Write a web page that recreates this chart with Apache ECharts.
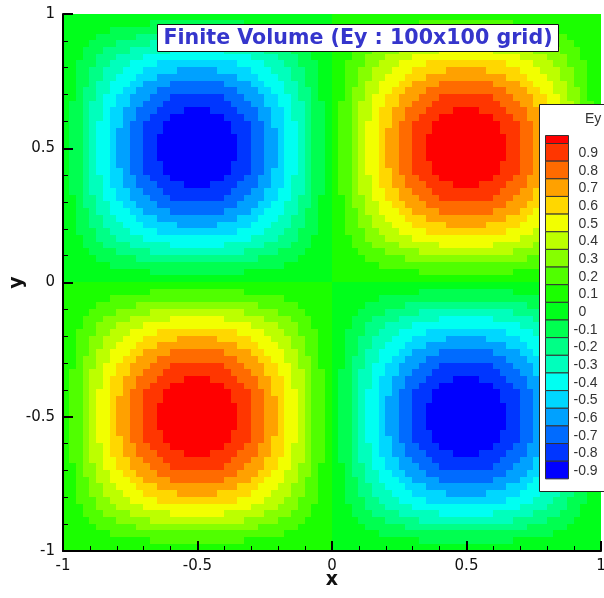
<!DOCTYPE html>
<html><head><meta charset="utf-8">
<script src="https://cdn.jsdelivr.net/npm/echarts@6/dist/echarts.min.js"></script>
<style>html,body{margin:0;padding:0;background:#fff}#c{width:604px;height:598px}</style>
</head><body><div id="c"></div>
<script>
// cell centres (0.025 wide finite-volume cells)
const xCells = [-0.9875,-0.9625,-0.9375,-0.9125,-0.8875,-0.8625,-0.8375,-0.8125,-0.7875,-0.7625,-0.7375,-0.7125,-0.6875,-0.6625,-0.6375,-0.6125,-0.5875,-0.5625,-0.5375,-0.5125,-0.4875,-0.4625,-0.4375,-0.4125,-0.3875,-0.3625,-0.3375,-0.3125,-0.2875,-0.2625,-0.2375,-0.2125,-0.1875,-0.1625,-0.1375,-0.1125,-0.0875,-0.0625,-0.0375,-0.0125,0.0125,0.0375,0.0625,0.0875,0.1125,0.1375,0.1625,0.1875,0.2125,0.2375,0.2625,0.2875,0.3125,0.3375,0.3625,0.3875,0.4125,0.4375,0.4625,0.4875,0.5125,0.5375,0.5625,0.5875,0.6125,0.6375,0.6625,0.6875,0.7125,0.7375,0.7625,0.7875,0.8125,0.8375,0.8625,0.8875,0.9125,0.9375,0.9625,0.9875];
const yCells = [0.9875,0.9625,0.9375,0.9125,0.8875,0.8625,0.8375,0.8125,0.7875,0.7625,0.7375,0.7125,0.6875,0.6625,0.6375,0.6125,0.5875,0.5625,0.5375,0.5125,0.4875,0.4625,0.4375,0.4125,0.3875,0.3625,0.3375,0.3125,0.2875,0.2625,0.2375,0.2125,0.1875,0.1625,0.1375,0.1125,0.0875,0.0625,0.0375,0.0125,-0.0125,-0.0375,-0.0625,-0.0875,-0.1125,-0.1375,-0.1625,-0.1875,-0.2125,-0.2375,-0.2625,-0.2875,-0.3125,-0.3375,-0.3625,-0.3875,-0.4125,-0.4375,-0.4625,-0.4875,-0.5125,-0.5375,-0.5625,-0.5875,-0.6125,-0.6375,-0.6625,-0.6875,-0.7125,-0.7375,-0.7625,-0.7875,-0.8125,-0.8375,-0.8625,-0.8875,-0.9125,-0.9375,-0.9625,-0.9875];
const eyPercent = [
[-1,-1,-1,-1,-1,-2,-2,-2,-2,-3,-3,-3,-3,-3,-4,-4,-4,-4,-4,-4,-4,-4,-4,-4,-4,-4,-3,-3,-3,-3,-3,-2,-2,-2,-2,-1,-1,-1,-1,-1,1,1,1,1,1,2,2,2,2,3,3,3,3,3,4,4,4,4,4,4,4,4,4,4,4,4,3,3,3,3,3,2,2,2,2,1,1,1,1,1],
[-1,-1,-2,-3,-4,-5,-6,-7,-7,-8,-9,-9,-9,-10,-11,-11,-11,-12,-12,-12,-12,-12,-12,-11,-11,-11,-10,-9,-9,-9,-8,-7,-7,-6,-5,-4,-3,-2,-1,-1,1,1,2,3,4,5,6,7,7,8,9,9,9,10,11,11,11,12,12,12,12,12,12,11,11,11,10,9,9,9,8,7,7,6,5,4,3,2,1,1],
[-1,-2,-4,-5,-7,-8,-9,-11,-12,-13,-14,-15,-16,-17,-18,-18,-19,-19,-19,-19,-19,-19,-19,-19,-18,-18,-17,-16,-15,-14,-13,-12,-11,-9,-8,-7,-5,-4,-2,-1,1,2,4,5,7,8,9,11,12,13,14,15,16,17,18,18,19,19,19,19,19,19,19,19,18,18,17,16,15,14,13,12,11,9,8,7,5,4,2,1],
[-1,-3,-5,-7,-9,-11,-13,-15,-17,-18,-19,-21,-23,-24,-25,-25,-26,-27,-27,-27,-27,-27,-27,-26,-25,-25,-24,-23,-21,-19,-18,-17,-15,-13,-11,-9,-7,-5,-3,-1,1,3,5,7,9,11,13,15,17,18,19,21,23,24,25,25,26,27,27,27,27,27,27,26,25,25,24,23,21,19,18,17,15,13,11,9,7,5,3,1],
[-1,-4,-7,-9,-12,-14,-17,-19,-21,-23,-25,-27,-29,-30,-31,-32,-33,-34,-34,-35,-35,-34,-34,-33,-32,-31,-30,-29,-27,-25,-23,-21,-19,-17,-14,-12,-9,-7,-4,-1,1,4,7,9,12,14,17,19,21,23,25,27,29,30,31,32,33,34,34,35,35,34,34,33,32,31,30,29,27,25,23,21,19,17,14,12,9,7,4,1],
[-2,-5,-8,-11,-14,-18,-20,-23,-26,-28,-31,-33,-35,-37,-38,-39,-40,-41,-42,-42,-42,-42,-41,-40,-39,-38,-37,-35,-33,-31,-28,-26,-23,-20,-18,-14,-11,-8,-5,-2,2,5,8,11,14,18,20,23,26,28,31,33,35,37,38,39,40,41,42,42,42,42,41,40,39,38,37,35,33,31,28,26,23,20,18,14,11,8,5,2],
[-2,-6,-9,-13,-17,-20,-24,-27,-30,-33,-36,-38,-41,-43,-44,-46,-47,-48,-49,-49,-49,-49,-48,-47,-46,-44,-43,-41,-38,-36,-33,-30,-27,-24,-20,-17,-13,-9,-6,-2,2,6,9,13,17,20,24,27,30,33,36,38,41,43,44,46,47,48,49,49,49,49,48,47,46,44,43,41,38,36,33,30,27,24,20,17,13,9,6,2],
[-2,-7,-11,-15,-19,-23,-27,-31,-34,-38,-41,-44,-46,-48,-50,-52,-53,-54,-55,-56,-56,-55,-54,-53,-52,-50,-48,-46,-44,-41,-38,-34,-31,-27,-23,-19,-15,-11,-7,-2,2,7,11,15,19,23,27,31,34,38,41,44,46,48,50,52,53,54,55,56,56,55,54,53,52,50,48,46,44,41,38,34,31,27,23,19,15,11,7,2],
[-2,-7,-12,-17,-21,-26,-30,-34,-38,-42,-45,-49,-51,-54,-56,-58,-59,-61,-61,-62,-62,-61,-61,-59,-58,-56,-54,-51,-49,-45,-42,-38,-34,-30,-26,-21,-17,-12,-7,-2,2,7,12,17,21,26,30,34,38,42,45,49,51,54,56,58,59,61,61,62,62,61,61,59,58,56,54,51,49,45,42,38,34,30,26,21,17,12,7,2],
[-3,-8,-13,-18,-23,-28,-33,-38,-42,-46,-49,-53,-56,-59,-62,-64,-65,-67,-67,-68,-68,-67,-67,-65,-64,-62,-59,-56,-53,-49,-46,-42,-38,-33,-28,-23,-18,-13,-8,-3,3,8,13,18,23,28,33,38,42,46,49,53,56,59,62,64,65,67,67,68,68,67,67,65,64,62,59,56,53,49,46,42,38,33,28,23,18,13,8,3],
[-3,-9,-14,-19,-25,-31,-36,-41,-45,-49,-54,-58,-61,-64,-67,-69,-71,-72,-73,-73,-73,-73,-72,-71,-69,-67,-64,-61,-58,-54,-49,-45,-41,-36,-31,-25,-19,-14,-9,-3,3,9,14,19,25,31,36,41,45,49,54,58,61,64,67,69,71,72,73,73,73,73,72,71,69,67,64,61,58,54,49,45,41,36,31,25,19,14,9,3],
[-3,-9,-15,-21,-27,-33,-38,-44,-49,-53,-58,-62,-65,-69,-71,-74,-76,-77,-78,-78,-78,-78,-77,-76,-74,-71,-69,-65,-62,-58,-53,-49,-44,-38,-33,-27,-21,-15,-9,-3,3,9,15,21,27,33,38,44,49,53,58,62,65,69,71,74,76,77,78,78,78,78,77,76,74,71,69,65,62,58,53,49,44,38,33,27,21,15,9,3],
[-3,-9,-16,-23,-29,-35,-41,-46,-51,-56,-61,-65,-69,-73,-76,-78,-80,-82,-83,-83,-83,-83,-82,-80,-78,-76,-73,-69,-65,-61,-56,-51,-46,-41,-35,-29,-23,-16,-9,-3,3,9,16,23,29,35,41,46,51,56,61,65,69,73,76,78,80,82,83,83,83,83,82,80,78,76,73,69,65,61,56,51,46,41,35,29,23,16,9,3],
[-3,-10,-17,-24,-30,-37,-43,-48,-54,-59,-64,-69,-73,-76,-79,-82,-84,-86,-87,-87,-87,-87,-86,-84,-82,-79,-76,-73,-69,-64,-59,-54,-48,-43,-37,-30,-24,-17,-10,-3,3,10,17,24,30,37,43,48,54,59,64,69,73,76,79,82,84,86,87,87,87,87,86,84,82,79,76,73,69,64,59,54,48,43,37,30,24,17,10,3],
[-4,-11,-18,-25,-31,-38,-44,-50,-56,-62,-67,-71,-76,-79,-82,-85,-87,-89,-90,-91,-91,-90,-89,-87,-85,-82,-79,-76,-71,-67,-62,-56,-50,-44,-38,-31,-25,-18,-11,-4,4,11,18,25,31,38,44,50,56,62,67,71,76,79,82,85,87,89,90,91,91,90,89,87,85,82,79,76,71,67,62,56,50,44,38,31,25,18,11,4],
[-4,-11,-18,-25,-32,-39,-46,-52,-58,-64,-69,-74,-78,-82,-85,-88,-90,-92,-93,-94,-94,-93,-92,-90,-88,-85,-82,-78,-74,-69,-64,-58,-52,-46,-39,-32,-25,-18,-11,-4,4,11,18,25,32,39,46,52,58,64,69,74,78,82,85,88,90,92,93,94,94,93,92,90,88,85,82,78,74,69,64,58,52,46,39,32,25,18,11,4],
[-4,-11,-19,-26,-33,-40,-47,-53,-59,-65,-71,-76,-80,-84,-87,-90,-93,-94,-96,-96,-96,-96,-94,-93,-90,-87,-84,-80,-76,-71,-65,-59,-53,-47,-40,-33,-26,-19,-11,-4,4,11,19,26,33,40,47,53,59,65,71,76,80,84,87,90,93,94,96,96,96,96,94,93,90,87,84,80,76,71,65,59,53,47,40,33,26,19,11,4],
[-4,-12,-19,-27,-34,-41,-48,-54,-61,-67,-72,-77,-82,-86,-89,-92,-94,-96,-97,-98,-98,-97,-96,-94,-92,-89,-86,-82,-77,-72,-67,-61,-54,-48,-41,-34,-27,-19,-12,-4,4,12,19,27,34,41,48,54,61,67,72,77,82,86,89,92,94,96,97,98,98,97,96,94,92,89,86,82,77,72,67,61,54,48,41,34,27,19,12,4],
[-4,-12,-19,-27,-34,-42,-49,-55,-61,-67,-73,-78,-83,-87,-90,-93,-96,-97,-99,-99,-99,-99,-97,-96,-93,-90,-87,-83,-78,-73,-67,-61,-55,-49,-42,-34,-27,-19,-12,-4,4,12,19,27,34,42,49,55,61,67,73,78,83,87,90,93,96,97,99,99,99,99,97,96,93,90,87,83,78,73,67,61,55,49,42,34,27,19,12,4],
[-4,-12,-19,-27,-35,-42,-49,-56,-62,-68,-73,-78,-83,-87,-91,-94,-96,-98,-99,-100,-100,-99,-98,-96,-94,-91,-87,-83,-78,-73,-68,-62,-56,-49,-42,-35,-27,-19,-12,-4,4,12,19,27,35,42,49,56,62,68,73,78,83,87,91,94,96,98,99,100,100,99,98,96,94,91,87,83,78,73,68,62,56,49,42,35,27,19,12,4],
[-4,-12,-19,-27,-35,-42,-49,-56,-62,-68,-73,-78,-83,-87,-91,-94,-96,-98,-99,-100,-100,-99,-98,-96,-94,-91,-87,-83,-78,-73,-68,-62,-56,-49,-42,-35,-27,-19,-12,-4,4,12,19,27,35,42,49,56,62,68,73,78,83,87,91,94,96,98,99,100,100,99,98,96,94,91,87,83,78,73,68,62,56,49,42,35,27,19,12,4],
[-4,-12,-19,-27,-34,-42,-49,-55,-61,-67,-73,-78,-83,-87,-90,-93,-96,-97,-99,-99,-99,-99,-97,-96,-93,-90,-87,-83,-78,-73,-67,-61,-55,-49,-42,-34,-27,-19,-12,-4,4,12,19,27,34,42,49,55,61,67,73,78,83,87,90,93,96,97,99,99,99,99,97,96,93,90,87,83,78,73,67,61,55,49,42,34,27,19,12,4],
[-4,-12,-19,-27,-34,-41,-48,-54,-61,-67,-72,-77,-82,-86,-89,-92,-94,-96,-97,-98,-98,-97,-96,-94,-92,-89,-86,-82,-77,-72,-67,-61,-54,-48,-41,-34,-27,-19,-12,-4,4,12,19,27,34,41,48,54,61,67,72,77,82,86,89,92,94,96,97,98,98,97,96,94,92,89,86,82,77,72,67,61,54,48,41,34,27,19,12,4],
[-4,-11,-19,-26,-33,-40,-47,-53,-59,-65,-71,-76,-80,-84,-87,-90,-93,-94,-96,-96,-96,-96,-94,-93,-90,-87,-84,-80,-76,-71,-65,-59,-53,-47,-40,-33,-26,-19,-11,-4,4,11,19,26,33,40,47,53,59,65,71,76,80,84,87,90,93,94,96,96,96,96,94,93,90,87,84,80,76,71,65,59,53,47,40,33,26,19,11,4],
[-4,-11,-18,-25,-32,-39,-46,-52,-58,-64,-69,-74,-78,-82,-85,-88,-90,-92,-93,-94,-94,-93,-92,-90,-88,-85,-82,-78,-74,-69,-64,-58,-52,-46,-39,-32,-25,-18,-11,-4,4,11,18,25,32,39,46,52,58,64,69,74,78,82,85,88,90,92,93,94,94,93,92,90,88,85,82,78,74,69,64,58,52,46,39,32,25,18,11,4],
[-4,-11,-18,-25,-31,-38,-44,-50,-56,-62,-67,-71,-76,-79,-82,-85,-87,-89,-90,-91,-91,-90,-89,-87,-85,-82,-79,-76,-71,-67,-62,-56,-50,-44,-38,-31,-25,-18,-11,-4,4,11,18,25,31,38,44,50,56,62,67,71,76,79,82,85,87,89,90,91,91,90,89,87,85,82,79,76,71,67,62,56,50,44,38,31,25,18,11,4],
[-3,-10,-17,-24,-30,-37,-43,-48,-54,-59,-64,-69,-73,-76,-79,-82,-84,-86,-87,-87,-87,-87,-86,-84,-82,-79,-76,-73,-69,-64,-59,-54,-48,-43,-37,-30,-24,-17,-10,-3,3,10,17,24,30,37,43,48,54,59,64,69,73,76,79,82,84,86,87,87,87,87,86,84,82,79,76,73,69,64,59,54,48,43,37,30,24,17,10,3],
[-3,-9,-16,-23,-29,-35,-41,-46,-51,-56,-61,-65,-69,-73,-76,-78,-80,-82,-83,-83,-83,-83,-82,-80,-78,-76,-73,-69,-65,-61,-56,-51,-46,-41,-35,-29,-23,-16,-9,-3,3,9,16,23,29,35,41,46,51,56,61,65,69,73,76,78,80,82,83,83,83,83,82,80,78,76,73,69,65,61,56,51,46,41,35,29,23,16,9,3],
[-3,-9,-15,-21,-27,-33,-38,-44,-49,-53,-58,-62,-65,-69,-71,-74,-76,-77,-78,-78,-78,-78,-77,-76,-74,-71,-69,-65,-62,-58,-53,-49,-44,-38,-33,-27,-21,-15,-9,-3,3,9,15,21,27,33,38,44,49,53,58,62,65,69,71,74,76,77,78,78,78,78,77,76,74,71,69,65,62,58,53,49,44,38,33,27,21,15,9,3],
[-3,-9,-14,-19,-25,-31,-36,-41,-45,-49,-54,-58,-61,-64,-67,-69,-71,-72,-73,-73,-73,-73,-72,-71,-69,-67,-64,-61,-58,-54,-49,-45,-41,-36,-31,-25,-19,-14,-9,-3,3,9,14,19,25,31,36,41,45,49,54,58,61,64,67,69,71,72,73,73,73,73,72,71,69,67,64,61,58,54,49,45,41,36,31,25,19,14,9,3],
[-3,-8,-13,-18,-23,-28,-33,-38,-42,-46,-49,-53,-56,-59,-62,-64,-65,-67,-67,-68,-68,-67,-67,-65,-64,-62,-59,-56,-53,-49,-46,-42,-38,-33,-28,-23,-18,-13,-8,-3,3,8,13,18,23,28,33,38,42,46,49,53,56,59,62,64,65,67,67,68,68,67,67,65,64,62,59,56,53,49,46,42,38,33,28,23,18,13,8,3],
[-2,-7,-12,-17,-21,-26,-30,-34,-38,-42,-45,-49,-51,-54,-56,-58,-59,-61,-61,-62,-62,-61,-61,-59,-58,-56,-54,-51,-49,-45,-42,-38,-34,-30,-26,-21,-17,-12,-7,-2,2,7,12,17,21,26,30,34,38,42,45,49,51,54,56,58,59,61,61,62,62,61,61,59,58,56,54,51,49,45,42,38,34,30,26,21,17,12,7,2],
[-2,-7,-11,-15,-19,-23,-27,-31,-34,-38,-41,-44,-46,-48,-50,-52,-53,-54,-55,-56,-56,-55,-54,-53,-52,-50,-48,-46,-44,-41,-38,-34,-31,-27,-23,-19,-15,-11,-7,-2,2,7,11,15,19,23,27,31,34,38,41,44,46,48,50,52,53,54,55,56,56,55,54,53,52,50,48,46,44,41,38,34,31,27,23,19,15,11,7,2],
[-2,-6,-9,-13,-17,-20,-24,-27,-30,-33,-36,-38,-41,-43,-44,-46,-47,-48,-49,-49,-49,-49,-48,-47,-46,-44,-43,-41,-38,-36,-33,-30,-27,-24,-20,-17,-13,-9,-6,-2,2,6,9,13,17,20,24,27,30,33,36,38,41,43,44,46,47,48,49,49,49,49,48,47,46,44,43,41,38,36,33,30,27,24,20,17,13,9,6,2],
[-2,-5,-8,-11,-14,-18,-20,-23,-26,-28,-31,-33,-35,-37,-38,-39,-40,-41,-42,-42,-42,-42,-41,-40,-39,-38,-37,-35,-33,-31,-28,-26,-23,-20,-18,-14,-11,-8,-5,-2,2,5,8,11,14,18,20,23,26,28,31,33,35,37,38,39,40,41,42,42,42,42,41,40,39,38,37,35,33,31,28,26,23,20,18,14,11,8,5,2],
[-1,-4,-7,-9,-12,-14,-17,-19,-21,-23,-25,-27,-29,-30,-31,-32,-33,-34,-34,-35,-35,-34,-34,-33,-32,-31,-30,-29,-27,-25,-23,-21,-19,-17,-14,-12,-9,-7,-4,-1,1,4,7,9,12,14,17,19,21,23,25,27,29,30,31,32,33,34,34,35,35,34,34,33,32,31,30,29,27,25,23,21,19,17,14,12,9,7,4,1],
[-1,-3,-5,-7,-9,-11,-13,-15,-17,-18,-19,-21,-23,-24,-25,-25,-26,-27,-27,-27,-27,-27,-27,-26,-25,-25,-24,-23,-21,-19,-18,-17,-15,-13,-11,-9,-7,-5,-3,-1,1,3,5,7,9,11,13,15,17,18,19,21,23,24,25,25,26,27,27,27,27,27,27,26,25,25,24,23,21,19,18,17,15,13,11,9,7,5,3,1],
[-1,-2,-4,-5,-7,-8,-9,-11,-12,-13,-14,-15,-16,-17,-18,-18,-19,-19,-19,-19,-19,-19,-19,-19,-18,-18,-17,-16,-15,-14,-13,-12,-11,-9,-8,-7,-5,-4,-2,-1,1,2,4,5,7,8,9,11,12,13,14,15,16,17,18,18,19,19,19,19,19,19,19,19,18,18,17,16,15,14,13,12,11,9,8,7,5,4,2,1],
[-1,-1,-2,-3,-4,-5,-6,-7,-7,-8,-9,-9,-9,-10,-11,-11,-11,-12,-12,-12,-12,-12,-12,-11,-11,-11,-10,-9,-9,-9,-8,-7,-7,-6,-5,-4,-3,-2,-1,-1,1,1,2,3,4,5,6,7,7,8,9,9,9,10,11,11,11,12,12,12,12,12,12,11,11,11,10,9,9,9,8,7,7,6,5,4,3,2,1,1],
[-1,-1,-1,-1,-1,-2,-2,-2,-2,-3,-3,-3,-3,-3,-4,-4,-4,-4,-4,-4,-4,-4,-4,-4,-4,-4,-3,-3,-3,-3,-3,-2,-2,-2,-2,-1,-1,-1,-1,-1,1,1,1,1,1,2,2,2,2,3,3,3,3,3,4,4,4,4,4,4,4,4,4,4,4,4,3,3,3,3,3,2,2,2,2,1,1,1,1,1],
[1,1,1,1,1,2,2,2,2,3,3,3,3,3,4,4,4,4,4,4,4,4,4,4,4,4,3,3,3,3,3,2,2,2,2,1,1,1,1,1,-1,-1,-1,-1,-1,-2,-2,-2,-2,-3,-3,-3,-3,-3,-4,-4,-4,-4,-4,-4,-4,-4,-4,-4,-4,-4,-3,-3,-3,-3,-3,-2,-2,-2,-2,-1,-1,-1,-1,-1],
[1,1,2,3,4,5,6,7,7,8,9,9,9,10,11,11,11,12,12,12,12,12,12,11,11,11,10,9,9,9,8,7,7,6,5,4,3,2,1,1,-1,-1,-2,-3,-4,-5,-6,-7,-7,-8,-9,-9,-9,-10,-11,-11,-11,-12,-12,-12,-12,-12,-12,-11,-11,-11,-10,-9,-9,-9,-8,-7,-7,-6,-5,-4,-3,-2,-1,-1],
[1,2,4,5,7,8,9,11,12,13,14,15,16,17,18,18,19,19,19,19,19,19,19,19,18,18,17,16,15,14,13,12,11,9,8,7,5,4,2,1,-1,-2,-4,-5,-7,-8,-9,-11,-12,-13,-14,-15,-16,-17,-18,-18,-19,-19,-19,-19,-19,-19,-19,-19,-18,-18,-17,-16,-15,-14,-13,-12,-11,-9,-8,-7,-5,-4,-2,-1],
[1,3,5,7,9,11,13,15,17,18,19,21,23,24,25,25,26,27,27,27,27,27,27,26,25,25,24,23,21,19,18,17,15,13,11,9,7,5,3,1,-1,-3,-5,-7,-9,-11,-13,-15,-17,-18,-19,-21,-23,-24,-25,-25,-26,-27,-27,-27,-27,-27,-27,-26,-25,-25,-24,-23,-21,-19,-18,-17,-15,-13,-11,-9,-7,-5,-3,-1],
[1,4,7,9,12,14,17,19,21,23,25,27,29,30,31,32,33,34,34,35,35,34,34,33,32,31,30,29,27,25,23,21,19,17,14,12,9,7,4,1,-1,-4,-7,-9,-12,-14,-17,-19,-21,-23,-25,-27,-29,-30,-31,-32,-33,-34,-34,-35,-35,-34,-34,-33,-32,-31,-30,-29,-27,-25,-23,-21,-19,-17,-14,-12,-9,-7,-4,-1],
[2,5,8,11,14,18,20,23,26,28,31,33,35,37,38,39,40,41,42,42,42,42,41,40,39,38,37,35,33,31,28,26,23,20,18,14,11,8,5,2,-2,-5,-8,-11,-14,-18,-20,-23,-26,-28,-31,-33,-35,-37,-38,-39,-40,-41,-42,-42,-42,-42,-41,-40,-39,-38,-37,-35,-33,-31,-28,-26,-23,-20,-18,-14,-11,-8,-5,-2],
[2,6,9,13,17,20,24,27,30,33,36,38,41,43,44,46,47,48,49,49,49,49,48,47,46,44,43,41,38,36,33,30,27,24,20,17,13,9,6,2,-2,-6,-9,-13,-17,-20,-24,-27,-30,-33,-36,-38,-41,-43,-44,-46,-47,-48,-49,-49,-49,-49,-48,-47,-46,-44,-43,-41,-38,-36,-33,-30,-27,-24,-20,-17,-13,-9,-6,-2],
[2,7,11,15,19,23,27,31,34,38,41,44,46,48,50,52,53,54,55,56,56,55,54,53,52,50,48,46,44,41,38,34,31,27,23,19,15,11,7,2,-2,-7,-11,-15,-19,-23,-27,-31,-34,-38,-41,-44,-46,-48,-50,-52,-53,-54,-55,-56,-56,-55,-54,-53,-52,-50,-48,-46,-44,-41,-38,-34,-31,-27,-23,-19,-15,-11,-7,-2],
[2,7,12,17,21,26,30,34,38,42,45,49,51,54,56,58,59,61,61,62,62,61,61,59,58,56,54,51,49,45,42,38,34,30,26,21,17,12,7,2,-2,-7,-12,-17,-21,-26,-30,-34,-38,-42,-45,-49,-51,-54,-56,-58,-59,-61,-61,-62,-62,-61,-61,-59,-58,-56,-54,-51,-49,-45,-42,-38,-34,-30,-26,-21,-17,-12,-7,-2],
[3,8,13,18,23,28,33,38,42,46,49,53,56,59,62,64,65,67,67,68,68,67,67,65,64,62,59,56,53,49,46,42,38,33,28,23,18,13,8,3,-3,-8,-13,-18,-23,-28,-33,-38,-42,-46,-49,-53,-56,-59,-62,-64,-65,-67,-67,-68,-68,-67,-67,-65,-64,-62,-59,-56,-53,-49,-46,-42,-38,-33,-28,-23,-18,-13,-8,-3],
[3,9,14,19,25,31,36,41,45,49,54,58,61,64,67,69,71,72,73,73,73,73,72,71,69,67,64,61,58,54,49,45,41,36,31,25,19,14,9,3,-3,-9,-14,-19,-25,-31,-36,-41,-45,-49,-54,-58,-61,-64,-67,-69,-71,-72,-73,-73,-73,-73,-72,-71,-69,-67,-64,-61,-58,-54,-49,-45,-41,-36,-31,-25,-19,-14,-9,-3],
[3,9,15,21,27,33,38,44,49,53,58,62,65,69,71,74,76,77,78,78,78,78,77,76,74,71,69,65,62,58,53,49,44,38,33,27,21,15,9,3,-3,-9,-15,-21,-27,-33,-38,-44,-49,-53,-58,-62,-65,-69,-71,-74,-76,-77,-78,-78,-78,-78,-77,-76,-74,-71,-69,-65,-62,-58,-53,-49,-44,-38,-33,-27,-21,-15,-9,-3],
[3,9,16,23,29,35,41,46,51,56,61,65,69,73,76,78,80,82,83,83,83,83,82,80,78,76,73,69,65,61,56,51,46,41,35,29,23,16,9,3,-3,-9,-16,-23,-29,-35,-41,-46,-51,-56,-61,-65,-69,-73,-76,-78,-80,-82,-83,-83,-83,-83,-82,-80,-78,-76,-73,-69,-65,-61,-56,-51,-46,-41,-35,-29,-23,-16,-9,-3],
[3,10,17,24,30,37,43,48,54,59,64,69,73,76,79,82,84,86,87,87,87,87,86,84,82,79,76,73,69,64,59,54,48,43,37,30,24,17,10,3,-3,-10,-17,-24,-30,-37,-43,-48,-54,-59,-64,-69,-73,-76,-79,-82,-84,-86,-87,-87,-87,-87,-86,-84,-82,-79,-76,-73,-69,-64,-59,-54,-48,-43,-37,-30,-24,-17,-10,-3],
[4,11,18,25,31,38,44,50,56,62,67,71,76,79,82,85,87,89,90,91,91,90,89,87,85,82,79,76,71,67,62,56,50,44,38,31,25,18,11,4,-4,-11,-18,-25,-31,-38,-44,-50,-56,-62,-67,-71,-76,-79,-82,-85,-87,-89,-90,-91,-91,-90,-89,-87,-85,-82,-79,-76,-71,-67,-62,-56,-50,-44,-38,-31,-25,-18,-11,-4],
[4,11,18,25,32,39,46,52,58,64,69,74,78,82,85,88,90,92,93,94,94,93,92,90,88,85,82,78,74,69,64,58,52,46,39,32,25,18,11,4,-4,-11,-18,-25,-32,-39,-46,-52,-58,-64,-69,-74,-78,-82,-85,-88,-90,-92,-93,-94,-94,-93,-92,-90,-88,-85,-82,-78,-74,-69,-64,-58,-52,-46,-39,-32,-25,-18,-11,-4],
[4,11,19,26,33,40,47,53,59,65,71,76,80,84,87,90,93,94,96,96,96,96,94,93,90,87,84,80,76,71,65,59,53,47,40,33,26,19,11,4,-4,-11,-19,-26,-33,-40,-47,-53,-59,-65,-71,-76,-80,-84,-87,-90,-93,-94,-96,-96,-96,-96,-94,-93,-90,-87,-84,-80,-76,-71,-65,-59,-53,-47,-40,-33,-26,-19,-11,-4],
[4,12,19,27,34,41,48,54,61,67,72,77,82,86,89,92,94,96,97,98,98,97,96,94,92,89,86,82,77,72,67,61,54,48,41,34,27,19,12,4,-4,-12,-19,-27,-34,-41,-48,-54,-61,-67,-72,-77,-82,-86,-89,-92,-94,-96,-97,-98,-98,-97,-96,-94,-92,-89,-86,-82,-77,-72,-67,-61,-54,-48,-41,-34,-27,-19,-12,-4],
[4,12,19,27,34,42,49,55,61,67,73,78,83,87,90,93,96,97,99,99,99,99,97,96,93,90,87,83,78,73,67,61,55,49,42,34,27,19,12,4,-4,-12,-19,-27,-34,-42,-49,-55,-61,-67,-73,-78,-83,-87,-90,-93,-96,-97,-99,-99,-99,-99,-97,-96,-93,-90,-87,-83,-78,-73,-67,-61,-55,-49,-42,-34,-27,-19,-12,-4],
[4,12,19,27,35,42,49,56,62,68,73,78,83,87,91,94,96,98,99,100,100,99,98,96,94,91,87,83,78,73,68,62,56,49,42,35,27,19,12,4,-4,-12,-19,-27,-35,-42,-49,-56,-62,-68,-73,-78,-83,-87,-91,-94,-96,-98,-99,-100,-100,-99,-98,-96,-94,-91,-87,-83,-78,-73,-68,-62,-56,-49,-42,-35,-27,-19,-12,-4],
[4,12,19,27,35,42,49,56,62,68,73,78,83,87,91,94,96,98,99,100,100,99,98,96,94,91,87,83,78,73,68,62,56,49,42,35,27,19,12,4,-4,-12,-19,-27,-35,-42,-49,-56,-62,-68,-73,-78,-83,-87,-91,-94,-96,-98,-99,-100,-100,-99,-98,-96,-94,-91,-87,-83,-78,-73,-68,-62,-56,-49,-42,-35,-27,-19,-12,-4],
[4,12,19,27,34,42,49,55,61,67,73,78,83,87,90,93,96,97,99,99,99,99,97,96,93,90,87,83,78,73,67,61,55,49,42,34,27,19,12,4,-4,-12,-19,-27,-34,-42,-49,-55,-61,-67,-73,-78,-83,-87,-90,-93,-96,-97,-99,-99,-99,-99,-97,-96,-93,-90,-87,-83,-78,-73,-67,-61,-55,-49,-42,-34,-27,-19,-12,-4],
[4,12,19,27,34,41,48,54,61,67,72,77,82,86,89,92,94,96,97,98,98,97,96,94,92,89,86,82,77,72,67,61,54,48,41,34,27,19,12,4,-4,-12,-19,-27,-34,-41,-48,-54,-61,-67,-72,-77,-82,-86,-89,-92,-94,-96,-97,-98,-98,-97,-96,-94,-92,-89,-86,-82,-77,-72,-67,-61,-54,-48,-41,-34,-27,-19,-12,-4],
[4,11,19,26,33,40,47,53,59,65,71,76,80,84,87,90,93,94,96,96,96,96,94,93,90,87,84,80,76,71,65,59,53,47,40,33,26,19,11,4,-4,-11,-19,-26,-33,-40,-47,-53,-59,-65,-71,-76,-80,-84,-87,-90,-93,-94,-96,-96,-96,-96,-94,-93,-90,-87,-84,-80,-76,-71,-65,-59,-53,-47,-40,-33,-26,-19,-11,-4],
[4,11,18,25,32,39,46,52,58,64,69,74,78,82,85,88,90,92,93,94,94,93,92,90,88,85,82,78,74,69,64,58,52,46,39,32,25,18,11,4,-4,-11,-18,-25,-32,-39,-46,-52,-58,-64,-69,-74,-78,-82,-85,-88,-90,-92,-93,-94,-94,-93,-92,-90,-88,-85,-82,-78,-74,-69,-64,-58,-52,-46,-39,-32,-25,-18,-11,-4],
[4,11,18,25,31,38,44,50,56,62,67,71,76,79,82,85,87,89,90,91,91,90,89,87,85,82,79,76,71,67,62,56,50,44,38,31,25,18,11,4,-4,-11,-18,-25,-31,-38,-44,-50,-56,-62,-67,-71,-76,-79,-82,-85,-87,-89,-90,-91,-91,-90,-89,-87,-85,-82,-79,-76,-71,-67,-62,-56,-50,-44,-38,-31,-25,-18,-11,-4],
[3,10,17,24,30,37,43,48,54,59,64,69,73,76,79,82,84,86,87,87,87,87,86,84,82,79,76,73,69,64,59,54,48,43,37,30,24,17,10,3,-3,-10,-17,-24,-30,-37,-43,-48,-54,-59,-64,-69,-73,-76,-79,-82,-84,-86,-87,-87,-87,-87,-86,-84,-82,-79,-76,-73,-69,-64,-59,-54,-48,-43,-37,-30,-24,-17,-10,-3],
[3,9,16,23,29,35,41,46,51,56,61,65,69,73,76,78,80,82,83,83,83,83,82,80,78,76,73,69,65,61,56,51,46,41,35,29,23,16,9,3,-3,-9,-16,-23,-29,-35,-41,-46,-51,-56,-61,-65,-69,-73,-76,-78,-80,-82,-83,-83,-83,-83,-82,-80,-78,-76,-73,-69,-65,-61,-56,-51,-46,-41,-35,-29,-23,-16,-9,-3],
[3,9,15,21,27,33,38,44,49,53,58,62,65,69,71,74,76,77,78,78,78,78,77,76,74,71,69,65,62,58,53,49,44,38,33,27,21,15,9,3,-3,-9,-15,-21,-27,-33,-38,-44,-49,-53,-58,-62,-65,-69,-71,-74,-76,-77,-78,-78,-78,-78,-77,-76,-74,-71,-69,-65,-62,-58,-53,-49,-44,-38,-33,-27,-21,-15,-9,-3],
[3,9,14,19,25,31,36,41,45,49,54,58,61,64,67,69,71,72,73,73,73,73,72,71,69,67,64,61,58,54,49,45,41,36,31,25,19,14,9,3,-3,-9,-14,-19,-25,-31,-36,-41,-45,-49,-54,-58,-61,-64,-67,-69,-71,-72,-73,-73,-73,-73,-72,-71,-69,-67,-64,-61,-58,-54,-49,-45,-41,-36,-31,-25,-19,-14,-9,-3],
[3,8,13,18,23,28,33,38,42,46,49,53,56,59,62,64,65,67,67,68,68,67,67,65,64,62,59,56,53,49,46,42,38,33,28,23,18,13,8,3,-3,-8,-13,-18,-23,-28,-33,-38,-42,-46,-49,-53,-56,-59,-62,-64,-65,-67,-67,-68,-68,-67,-67,-65,-64,-62,-59,-56,-53,-49,-46,-42,-38,-33,-28,-23,-18,-13,-8,-3],
[2,7,12,17,21,26,30,34,38,42,45,49,51,54,56,58,59,61,61,62,62,61,61,59,58,56,54,51,49,45,42,38,34,30,26,21,17,12,7,2,-2,-7,-12,-17,-21,-26,-30,-34,-38,-42,-45,-49,-51,-54,-56,-58,-59,-61,-61,-62,-62,-61,-61,-59,-58,-56,-54,-51,-49,-45,-42,-38,-34,-30,-26,-21,-17,-12,-7,-2],
[2,7,11,15,19,23,27,31,34,38,41,44,46,48,50,52,53,54,55,56,56,55,54,53,52,50,48,46,44,41,38,34,31,27,23,19,15,11,7,2,-2,-7,-11,-15,-19,-23,-27,-31,-34,-38,-41,-44,-46,-48,-50,-52,-53,-54,-55,-56,-56,-55,-54,-53,-52,-50,-48,-46,-44,-41,-38,-34,-31,-27,-23,-19,-15,-11,-7,-2],
[2,6,9,13,17,20,24,27,30,33,36,38,41,43,44,46,47,48,49,49,49,49,48,47,46,44,43,41,38,36,33,30,27,24,20,17,13,9,6,2,-2,-6,-9,-13,-17,-20,-24,-27,-30,-33,-36,-38,-41,-43,-44,-46,-47,-48,-49,-49,-49,-49,-48,-47,-46,-44,-43,-41,-38,-36,-33,-30,-27,-24,-20,-17,-13,-9,-6,-2],
[2,5,8,11,14,18,20,23,26,28,31,33,35,37,38,39,40,41,42,42,42,42,41,40,39,38,37,35,33,31,28,26,23,20,18,14,11,8,5,2,-2,-5,-8,-11,-14,-18,-20,-23,-26,-28,-31,-33,-35,-37,-38,-39,-40,-41,-42,-42,-42,-42,-41,-40,-39,-38,-37,-35,-33,-31,-28,-26,-23,-20,-18,-14,-11,-8,-5,-2],
[1,4,7,9,12,14,17,19,21,23,25,27,29,30,31,32,33,34,34,35,35,34,34,33,32,31,30,29,27,25,23,21,19,17,14,12,9,7,4,1,-1,-4,-7,-9,-12,-14,-17,-19,-21,-23,-25,-27,-29,-30,-31,-32,-33,-34,-34,-35,-35,-34,-34,-33,-32,-31,-30,-29,-27,-25,-23,-21,-19,-17,-14,-12,-9,-7,-4,-1],
[1,3,5,7,9,11,13,15,17,18,19,21,23,24,25,25,26,27,27,27,27,27,27,26,25,25,24,23,21,19,18,17,15,13,11,9,7,5,3,1,-1,-3,-5,-7,-9,-11,-13,-15,-17,-18,-19,-21,-23,-24,-25,-25,-26,-27,-27,-27,-27,-27,-27,-26,-25,-25,-24,-23,-21,-19,-18,-17,-15,-13,-11,-9,-7,-5,-3,-1],
[1,2,4,5,7,8,9,11,12,13,14,15,16,17,18,18,19,19,19,19,19,19,19,19,18,18,17,16,15,14,13,12,11,9,8,7,5,4,2,1,-1,-2,-4,-5,-7,-8,-9,-11,-12,-13,-14,-15,-16,-17,-18,-18,-19,-19,-19,-19,-19,-19,-19,-19,-18,-18,-17,-16,-15,-14,-13,-12,-11,-9,-8,-7,-5,-4,-2,-1],
[1,1,2,3,4,5,6,7,7,8,9,9,9,10,11,11,11,12,12,12,12,12,12,11,11,11,10,9,9,9,8,7,7,6,5,4,3,2,1,1,-1,-1,-2,-3,-4,-5,-6,-7,-7,-8,-9,-9,-9,-10,-11,-11,-11,-12,-12,-12,-12,-12,-12,-11,-11,-11,-10,-9,-9,-9,-8,-7,-7,-6,-5,-4,-3,-2,-1,-1],
[1,1,1,1,1,2,2,2,2,3,3,3,3,3,4,4,4,4,4,4,4,4,4,4,4,4,3,3,3,3,3,2,2,2,2,1,1,1,1,1,-1,-1,-1,-1,-1,-2,-2,-2,-2,-3,-3,-3,-3,-3,-4,-4,-4,-4,-4,-4,-4,-4,-4,-4,-4,-4,-3,-3,-3,-3,-3,-2,-2,-2,-2,-1,-1,-1,-1,-1]
];
// contour levels and flood band colours (20 bands: below -0.9 ... above 0.9)
const levels = [-0.9,-0.8,-0.7,-0.6,-0.5,-0.4,-0.3,-0.2,-0.1,0,0.1,0.2,0.3,0.4,0.5,0.6,0.7,0.8,0.9];
const levelLabels = ['-0.9','-0.8','-0.7','-0.6','-0.5','-0.4','-0.3','-0.2','-0.1','0','0.1','0.2','0.3','0.4','0.5','0.6','0.7','0.8','0.9'];
const bandColors = ['#0000FF','#0036FF','#006BFF','#00A1FF','#00D7FF','#00FFF2','#00FFBC','#00FF86','#00FF50','#00FF1B','#1BFF00','#50FF00','#86FF00','#BCFF00','#F2FF00','#FFD700','#FFA100','#FF6B00','#FF3600','#FF0000'];
const titleText = 'Finite Volume (Ey : 100x100 grid)';

const data = [];
for (let r = 0; r < yCells.length; r++) {
  for (let c = 0; c < xCells.length; c++) {
    data.push([xCells[c], yCells[r], eyPercent[r][c] / 100]);
  }
}
// bands symmetric about 0: negative bands are (L-0.1, L], positive bands [L, L+0.1)
const pieces = [];
const zeroIdx = levels.indexOf(0);
pieces.push({ lte: levels[0], color: bandColors[0] });
for (let k = 1; k < levels.length; k++) {
  if (k <= zeroIdx - 1 + 1 && levels[k] <= 0) {
    if (levels[k] < 0) pieces.push({ gt: levels[k - 1], lte: levels[k], color: bandColors[k] });
    else pieces.push({ gt: levels[k - 1], lt: levels[k], color: bandColors[k] });
  } else {
    pieces.push({ gte: levels[k - 1], lt: levels[k], color: bandColors[k] });
  }
}
pieces.push({ gte: levels[levels.length - 1], color: bandColors[levels.length] });

const halfX = (xCells[1] - xCells[0]) / 2;
const halfY = (yCells[0] - yCells[1]) / 2;

// Tecplot-style contour legend
const graphic = [];
graphic.push({ type: 'rect', z: 100, shape: { x: 539.5, y: 104.5, width: 80, height: 387 }, style: { fill: '#fff', stroke: '#222', lineWidth: 1 } });
graphic.push({ type: 'text', z: 101, x: 585, y: 119, style: { text: 'Ey', font: '14px "Liberation Sans", Arial, sans-serif', fill: '#333', verticalAlign: 'middle' } });
const boxX = 545.5, boxW = 23, topH = 8, boxH = 17.65, boxY0 = 135.5;
graphic.push({ type: 'rect', z: 101, shape: { x: boxX, y: boxY0, width: boxW, height: topH }, style: { fill: bandColors[levels.length], stroke: '#333', lineWidth: 1 } });
for (let i = levels.length - 1; i >= 0; i--) {
  const row = levels.length - 1 - i;
  const y = boxY0 + topH + row * boxH;
  graphic.push({ type: 'rect', z: 101, shape: { x: boxX, y: y, width: boxW, height: boxH }, style: { fill: bandColors[i], stroke: '#333', lineWidth: 1 } });
  const neg = levels[i] < 0;
  graphic.push({ type: 'text', z: 101, x: neg ? 573.5 : 578.5, y: y + boxH / 2 + 1, style: { text: levelLabels[i], font: '14px "Liberation Sans", Arial, sans-serif', fill: '#333', verticalAlign: 'middle' } });
}
// title box
graphic.push({ type: 'rect', z: 100, shape: { x: 157.5, y: 24.5, width: 401, height: 27 }, style: { fill: '#fff', stroke: '#111', lineWidth: 1 } });
graphic.push({ type: 'text', z: 101, x: 358, y: 38.5, style: { text: titleText, font: 'bold 20.6px "DejaVu Sans", sans-serif', fill: '#3535CC', align: 'center', verticalAlign: 'middle' } });

const axisFont = { fontFamily: '"DejaVu Sans", sans-serif', fontSize: 15, color: '#111' };
const nameFont = { fontFamily: '"DejaVu Sans", sans-serif', fontSize: 19, fontWeight: 'bold', color: '#111' };
function makeAxis(name, gap) {
  return {
    type: 'value', min: -1, max: 1, interval: 0.5, z: 10,
    name: name, nameLocation: 'middle', nameGap: gap, nameMoveOverlap: false,
    nameTextStyle: nameFont,
    axisLine: { show: true, onZero: false, lineStyle: { color: '#000', width: 2 } },
    axisTick: { show: true, inside: true, length: 10, lineStyle: { color: '#000', width: 2 } },
    minorTick: { show: true, splitNumber: 5, length: 5, lineStyle: { color: '#000', width: 1 } },
    splitLine: { show: false }, minorSplitLine: { show: false },
    axisLabel: Object.assign({ margin: 8, showMinLabel: true, showMaxLabel: true, hideOverlap: false, formatter: v => String(v) }, axisFont)
  };
}
const chart = echarts.init(document.getElementById('c'), null, { renderer: 'canvas' });
chart.setOption({
  animation: false,
  backgroundColor: '#fff',
  grid: { left: 63, top: 14, right: 3, bottom: 47, containLabel: false, outerBoundsMode: 'none' },
  xAxis: makeAxis('x', 20),
  yAxis: makeAxis('y', 36),
  visualMap: { type: 'piecewise', show: false, dimension: 2, seriesIndex: 0, pieces: pieces },
  series: [{
    type: 'custom', z: 1, clip: true,
    encode: { x: 0, y: 1 },
    data: data,
    renderItem: function (params, api) {
      const x = api.value(0), y = api.value(1);
      const p0 = api.coord([x - halfX, y + halfY]);
      const p1 = api.coord([x + halfX, y - halfY]);
      const x0 = Math.floor(p0[0]), y0 = Math.floor(p0[1]);
      const x1 = Math.ceil(p1[0]), y1 = Math.ceil(p1[1]);
      return { type: 'rect', shape: { x: x0, y: y0, width: x1 - x0, height: y1 - y0 }, style: { fill: api.visual('color') } };
    }
  }],
  graphic: graphic
});
</script>
</body></html>
